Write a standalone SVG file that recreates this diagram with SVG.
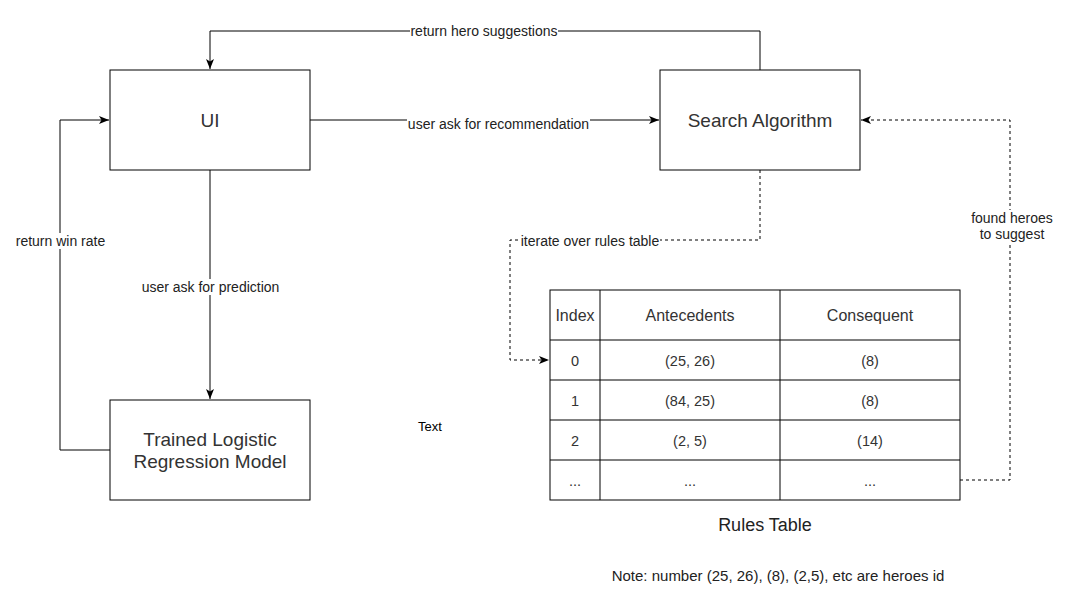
<svg xmlns="http://www.w3.org/2000/svg" width="1071" height="612" viewBox="0 0 1071 612">
<style>
.box{fill:#fff;stroke:#000;stroke-width:1}
.edge{fill:none;stroke:#000;stroke-width:1}
.dash{stroke-dasharray:3 3}
.node{font-family:"Liberation Sans",Arial,sans-serif;font-size:19px;fill:#333;text-anchor:middle}
.lbl{font-family:"Liberation Sans",Arial,sans-serif;font-size:14px;fill:#222;text-anchor:middle}
.bg{fill:#fff;stroke:none}
.th{font-family:"Liberation Sans",Arial,sans-serif;font-size:16px;fill:#333;text-anchor:middle}
.td{font-family:"Liberation Sans",Arial,sans-serif;font-size:14.5px;fill:#333;text-anchor:middle}
</style>
<defs>
<marker id="arr" viewBox="0 0 10 10" refX="10" refY="5" markerWidth="10" markerHeight="10" markerUnits="userSpaceOnUse" orient="auto">
<path d="M0,1 L10,5 L0,9 L2.5,5 Z" fill="#000"/>
</marker>
</defs>
<rect width="1071" height="612" fill="#fff"/>

<g id="connectors">
<path class="edge" d="M760,70 V31 H210 V69" marker-end="url(#arr)"/>
<path class="edge" d="M310,120 H659" marker-end="url(#arr)"/>
<path class="edge" d="M210,170 V399" marker-end="url(#arr)"/>
<path class="edge" d="M110,450 H60 V120 H109" marker-end="url(#arr)"/>
<path class="edge dash" d="M760,170 V240 H510 V360 H549" marker-end="url(#arr)"/>
<path class="edge dash" d="M960,480 H1010 V120 H861" marker-end="url(#arr)"/>
<rect class="bg" x="410" y="23" width="148" height="16"/>
<text class="lbl" x="484" y="36">return hero suggestions</text>
<rect class="bg" x="407" y="116" width="183" height="16"/>
<text class="lbl" x="498.5" y="129">user ask for recommendation</text>
<rect class="bg" x="141" y="279" width="139" height="16"/>
<text class="lbl" x="210.5" y="292">user ask for prediction</text>
<rect class="bg" x="15" y="233" width="91" height="16"/>
<text class="lbl" x="60.5" y="246">return win rate</text>
<rect class="bg" x="520" y="233" width="140" height="16"/>
<text class="lbl" x="590" y="246">iterate over rules table</text>
<rect class="bg" x="970" y="210" width="84" height="32"/>
<text class="lbl" x="1012" y="223">found heroes</text>
<text class="lbl" x="1012" y="239">to suggest</text>
</g>

<g id="ui">
<rect class="box" x="110" y="70" width="200" height="100"/>
<text class="node" x="210" y="127">UI</text>
</g>

<g id="search">
<rect class="box" x="660" y="70" width="200" height="100"/>
<text class="node" x="760" y="127">Search Algorithm</text>
</g>

<g id="model">
<rect class="box" x="110" y="400" width="200" height="100"/>
<text class="node" x="210" y="446">Trained Logistic</text>
<text class="node" x="210" y="468">Regression Model</text>
</g>

<g id="rules-table">
<rect class="box" x="550" y="290" width="410" height="210"/>
<path class="edge" d="M600,290 V500 M780,290 V500 M550,340 H960 M550,380 H960 M550,420 H960 M550,460 H960"/>
<text class="th" x="575" y="321">Index</text>
<text class="th" x="690" y="321">Antecedents</text>
<text class="th" x="870" y="321">Consequent</text>
<text class="td" x="575" y="366">0</text>
<text class="td" x="690" y="366">(25, 26)</text>
<text class="td" x="870" y="366">(8)</text>
<text class="td" x="575" y="406">1</text>
<text class="td" x="690" y="406">(84, 25)</text>
<text class="td" x="870" y="406">(8)</text>
<text class="td" x="575" y="446">2</text>
<text class="td" x="690" y="446">(2, 5)</text>
<text class="td" x="870" y="446">(14)</text>
<text class="td" x="575" y="486">...</text>
<text class="td" x="690" y="486">...</text>
<text class="td" x="870" y="486">...</text>
</g>

<g id="rules-title">
<text font-family="Liberation Sans, Arial, sans-serif" font-size="18" fill="#222" text-anchor="middle" x="765" y="531">Rules Table</text>
</g>
<g id="note">
<text font-family="Liberation Sans, Arial, sans-serif" font-size="15" fill="#222" text-anchor="middle" x="778" y="581">Note: number (25, 26), (8), (2,5), etc are heroes id</text>
</g>
<g id="text-label">
<text font-family="Liberation Sans, Arial, sans-serif" font-size="13" fill="#000" text-anchor="middle" x="430" y="431">Text</text>
</g>
</svg>
